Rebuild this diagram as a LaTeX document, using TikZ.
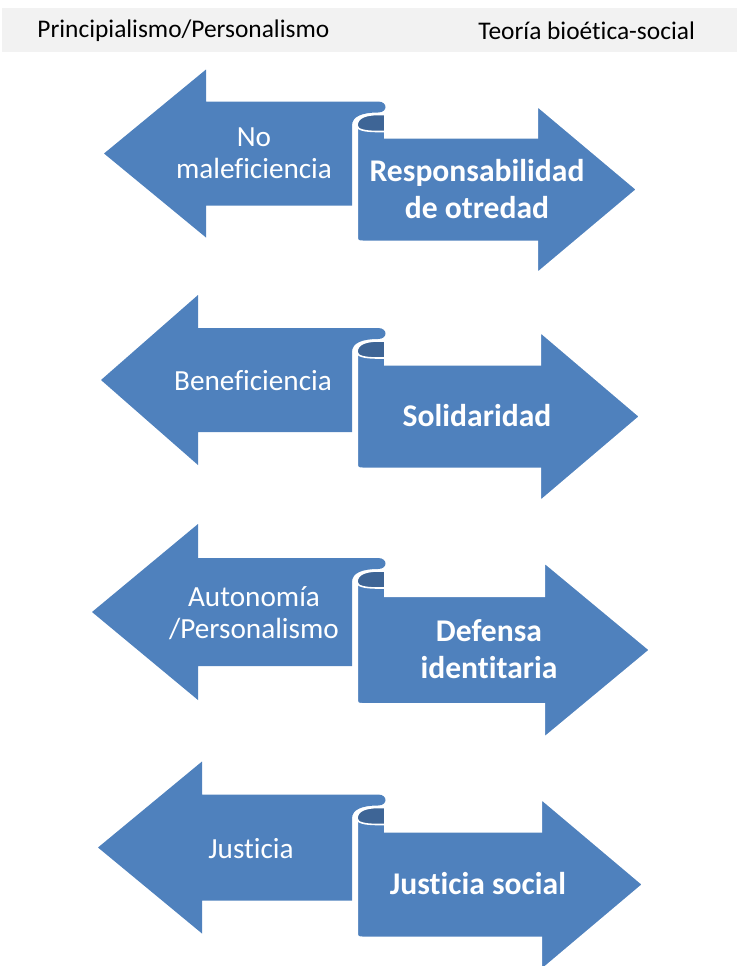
\documentclass[tikz,border=0pt]{standalone}
\usepackage{fontspec}
\setmainfont[RawFeature={-liga;-clig;-dlig;-calt}]{Carlito}
\usepackage{xcolor}
\usepackage{tikz}
\usetikzlibrary{positioning, calc}
\definecolor{ribbonblue}{RGB}{79, 129, 189}
\definecolor{ribbondark}{RGB}{62, 101, 150}
\definecolor{headergray}{RGB}{242, 242, 242}

% one left-right ribbon: #1 left centre y, #2 right centre y, #3 left tip x,
% #4 left head back x, #5 right head back x, #6 right tip x, #7 half head, #8 half shaft
\newcommand{\ribbonpair}[8]{%
  \fill[ribbonblue] (#3,#1) -- (#4,{#1-#7}) -- (#4,{#1-#8}) -- (378,{#1-#8})
    .. controls (388,{#1-#8}) and (388,{#1-#8+11}) .. (378,{#1-#8+11})
    .. controls (362,{#1-#8+11}) and (352,{#1-#8+15}) .. (352,{#1-#8+24})
    -- (352,{#1+#8}) -- (#4,{#1+#8}) -- (#4,{#1+#7}) -- cycle;
  \filldraw[ribbonblue, draw=white, line width=1pt] (385,{#1-#8+13}) -- (385,{#2-#8})
    -- (#5,{#2-#8}) -- (#5,{#2-#7}) -- (#6,#2) -- (#5,{#2+#7}) -- (#5,{#2+#8})
    -- (364,{#2+#8}) .. controls (357,{#2+#8}) .. (357,{#2+#8-7})
    -- (357,{#1-#8+24}) .. controls (357,{#1-#8+16}) and (366,{#1-#8+13}) .. (378,{#1-#8+13}) -- cycle;
  \filldraw[ribbondark, draw=white, line width=0.8pt] (385,{#1-#8+13}) -- (385,{#1-#8+30})
    -- (378,{#1-#8+30}) .. controls (364,{#1-#8+30}) and (357,{#1-#8+28}) .. (357,{#1-#8+24})
    .. controls (357,{#1-#8+16}) and (366,{#1-#8+13}) .. (378,{#1-#8+13}) -- cycle;
}

\begin{document}
\begin{tikzpicture}[
    x=0.5pt, y=-0.5pt,
    header/.style={anchor=west, inner sep=0pt, font=\fontsize{12.7}{14}\selectfont},
    lefttext/.style={align=center, inner sep=0pt, text=white, font=\fontsize{14.6}{16}\selectfont},
    righttext/.style={align=center, inner sep=0pt, text=white, font=\fontsize{15.8}{18.5}\selectfont\bfseries}
]
\useasboundingbox (0,0) rectangle (737,966);

% Header band
\fill[headergray] (2,8) rectangle (737,52);
\node[header] (hleft) at (37,31) {Principialismo/Personalismo};
\node[header] (hright) at (478,31) {Teoría bioética-social};

% Ribbons
\ribbonpair{153.5}{189.5}{104}{206}{537}{637}{84}{52}
\ribbonpair{380}{416.5}{101}{198}{540}{640}{85}{52}
\ribbonpair{612}{650}{92}{198}{544}{650}{88}{54}
\ribbonpair{847.5}{884.5}{98}{202}{541}{643}{86}{53}

% Left labels
\node[lefttext] (nomal) at (254,153) {No\\maleficiencia};
\node[lefttext] (benef) at (253,381) {Beneficiencia};
\node[lefttext] (auton) at (254,613) {Autonomía\\/Personalismo};
\node[lefttext] (just) at (251,849) {Justicia};

% Right labels
\node[righttext] (resp) at (477,189) {Responsabilidad\\de otredad};
\node[righttext] (solid) at (477,416) {Solidaridad};
\node[righttext] (defensa) at (489,649) {Defensa\\identitaria};
\node[righttext] (justsoc) at (478,884) {Justicia social};

\end{tikzpicture}
\end{document}
